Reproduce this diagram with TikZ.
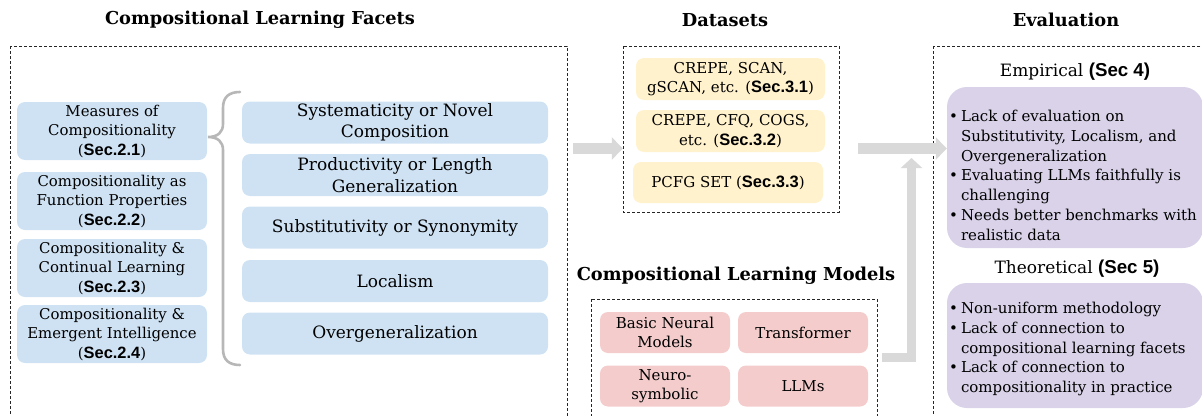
\documentclass[tikz,border=0pt]{standalone}
\usepackage{fontspec}
\setmainfont{DejaVu Serif}
\newfontfamily\secfont[Scale=1.1]{Liberation Sans}
\usetikzlibrary{arrows.meta,calc}
\definecolor{bluebox}{HTML}{CFE2F3}
\definecolor{yellowbox}{HTML}{FFF2CC}
\definecolor{pinkbox}{HTML}{F4CCCC}
\definecolor{purplebox}{HTML}{D9D2E9}
\definecolor{arrowgray}{HTML}{D9D9D9}
\definecolor{bracegray}{HTML}{B7B7B7}
\newcommand\sref[1]{{\secfont\bfseries #1}}
\tikzset{
  grp/.style={draw=black!85, dash pattern=on 3pt off 2pt, line width=0.8pt},
  ttl/.style={font=\fontsize{17.8}{21}\selectfont\bfseries, inner sep=0pt},
  leftbox/.style={fill=bluebox, rounded corners=8pt, minimum width=190pt, minimum height=58pt, inner sep=0pt, align=center, font=\fontsize{14.9}{19.5}\selectfont},
  facetbox/.style={fill=bluebox, rounded corners=8pt, minimum width=306pt, minimum height=42pt, inner sep=0pt, align=center, font=\fontsize{17}{21.5}\selectfont},
  databox/.style={fill=yellowbox, rounded corners=8pt, minimum width=189pt, minimum height=42pt, inner sep=0pt, align=center, font=\fontsize{15}{19.5}\selectfont},
  modelbox/.style={fill=pinkbox, rounded corners=8pt, minimum width=130pt, minimum height=41pt, inner sep=0pt, align=center, font=\fontsize{15}{19.5}\selectfont},
  evalbox/.style={fill=purplebox, rounded corners=20pt, inner sep=0pt},
  subttl/.style={font=\fontsize{17}{20}\selectfont, inner sep=0pt},
  evaltext/.style={anchor=north west, inner sep=0pt, align=left, font=\fontsize{15}{19.8}\selectfont},
  blockarrow/.style={draw=arrowgray, line width=11pt, -{Triangle[length=11pt,width=22pt]}},
}
\begin{document}
\begin{tikzpicture}[x=1pt,y=-1pt]
\useasboundingbox (0,0) rectangle (1202,415);
\clip (0,0) rectangle (1202,415);

% titles
\node[ttl] (t1) at (260,20) {Compositional Learning Facets};
\node[ttl] (t2) at (725,20) {Datasets};
\node[ttl] (t3) at (1066,20) {Evaluation};
\node[ttl] (t4) at (736,276) {Compositional Learning Models};

% group frames
\draw[grp] (10,46) rectangle (567,440);
\node[inner sep=0pt, minimum width=557pt, minimum height=394pt] (facets) at (288.5,243) {};
\draw[grp] (623,46) rectangle (839,212);
\node[inner sep=0pt, minimum width=216pt, minimum height=166pt] (datasets) at (731,129) {};
\draw[grp] (591,299) rectangle (877,440);
\node[inner sep=0pt, minimum width=286pt, minimum height=141pt] (models) at (734,369.5) {};
\draw[grp] (933,46) rectangle (1220,440);

% left boxes
\node[leftbox] (m1) at (112,131) {Measures of\\Compositionality\\(\sref{Sec.2.1})};
\node[leftbox] (m2) at (112,201) {Compositionality as\\Function Properties\\(\sref{Sec.2.2})};
\node[leftbox] (m3) at (112,268) {Compositionality \&\\Continual Learning\\(\sref{Sec.2.3})};
\node[leftbox] (m4) at (112,334) {Compositionality \&\\Emergent Intelligence\\(\sref{Sec.2.4})};

% facet boxes
\node[facetbox] (f1) at (395,122.5) {Systematicity or Novel\\Composition};
\node[facetbox] (f2) at (395,175) {Productivity or Length\\Generalization};
\node[facetbox] (f3) at (395,227.5) {Substitutivity or Synonymity};
\node[facetbox] (f4) at (395,281) {Localism};
\node[facetbox] (f5) at (395,333.5) {Overgeneralization};

% brace
\draw[bracegray, line width=2.6pt, line cap=round]
  (240,92) .. controls (229,92) and (223,97) .. (223,108) -- (223,124)
  .. controls (223,132) and (218,137) .. (208,137)
  .. controls (218,137) and (223,142) .. (223,150) -- (223,349)
  .. controls (223,360) and (229,365) .. (240,365);

% dataset boxes
\node[databox] (d1) at (730.5,79) {CREPE, SCAN,\\gSCAN, etc. (\sref{Sec.3.1})};
\node[databox] (d2) at (730.5,131) {CREPE, CFQ, COGS,\\etc. (\sref{Sec.3.2})};
\node[databox, minimum width=190pt, minimum height=41pt] (d3) at (728,182.5) {PCFG SET (\sref{Sec.3.3})};

% model boxes
\node[modelbox] (b1) at (665,332.5) {Basic Neural\\Models};
\node[modelbox] (b2) at (803,332.5) {Transformer};
\node[modelbox] (b3) at (665,386) {Neuro-\\symbolic};
\node[modelbox] (b4) at (803,386) {LLMs};

% evaluation
\node[subttl] (e1) at (1075,72) {Empirical \sref{(Sec 4)}};
\node[evalbox, minimum width=256pt, minimum height=161pt] (emp) at (1075,167.5) {};
\node[evaltext] (emptext) at (949,107.5) {%
\begin{tabular}{@{}l@{\hspace{3pt}}l@{}}
\textbullet & Lack of evaluation on\\
 & Substitutivity, Localism, and\\
 & Overgeneralization\\
\textbullet & Evaluating LLMs faithfully is\\
 & challenging\\
\textbullet & Needs better benchmarks with\\
 & realistic data
\end{tabular}};
\node[subttl] (e2) at (1077,269) {Theoretical \sref{(Sec 5)}};
\node[evalbox, minimum width=256pt, minimum height=125pt] (theo) at (1075,345.5) {};
\node[evaltext] (theotext) at (949,299.5) {%
\begin{tabular}{@{}l@{\hspace{3pt}}l@{}}
\textbullet & Non-uniform methodology\\
\textbullet & Lack of connection to\\
 & compositional learning facets\\
\textbullet & Lack of connection to\\
 & compositionality in practice
\end{tabular}};

% arrows
\coordinate (ay) at (0,148.5);
\draw[blockarrow] ($(facets.east |- ay)+(6,0)$) -- (datasets.west |- ay);
\draw[blockarrow] ($(datasets.east |- ay)+(19,0)$) -- (emp.west |- ay);
\coordinate (cornerL) at (911.5,357);
\draw[blockarrow, line width=9pt, line join=miter, -{Triangle[length=10pt,width=21pt]}]
  ($(models.east |- cornerL)+(5,0)$) -- (cornerL) -- (cornerL |- 0,158);
\end{tikzpicture}
\end{document}
